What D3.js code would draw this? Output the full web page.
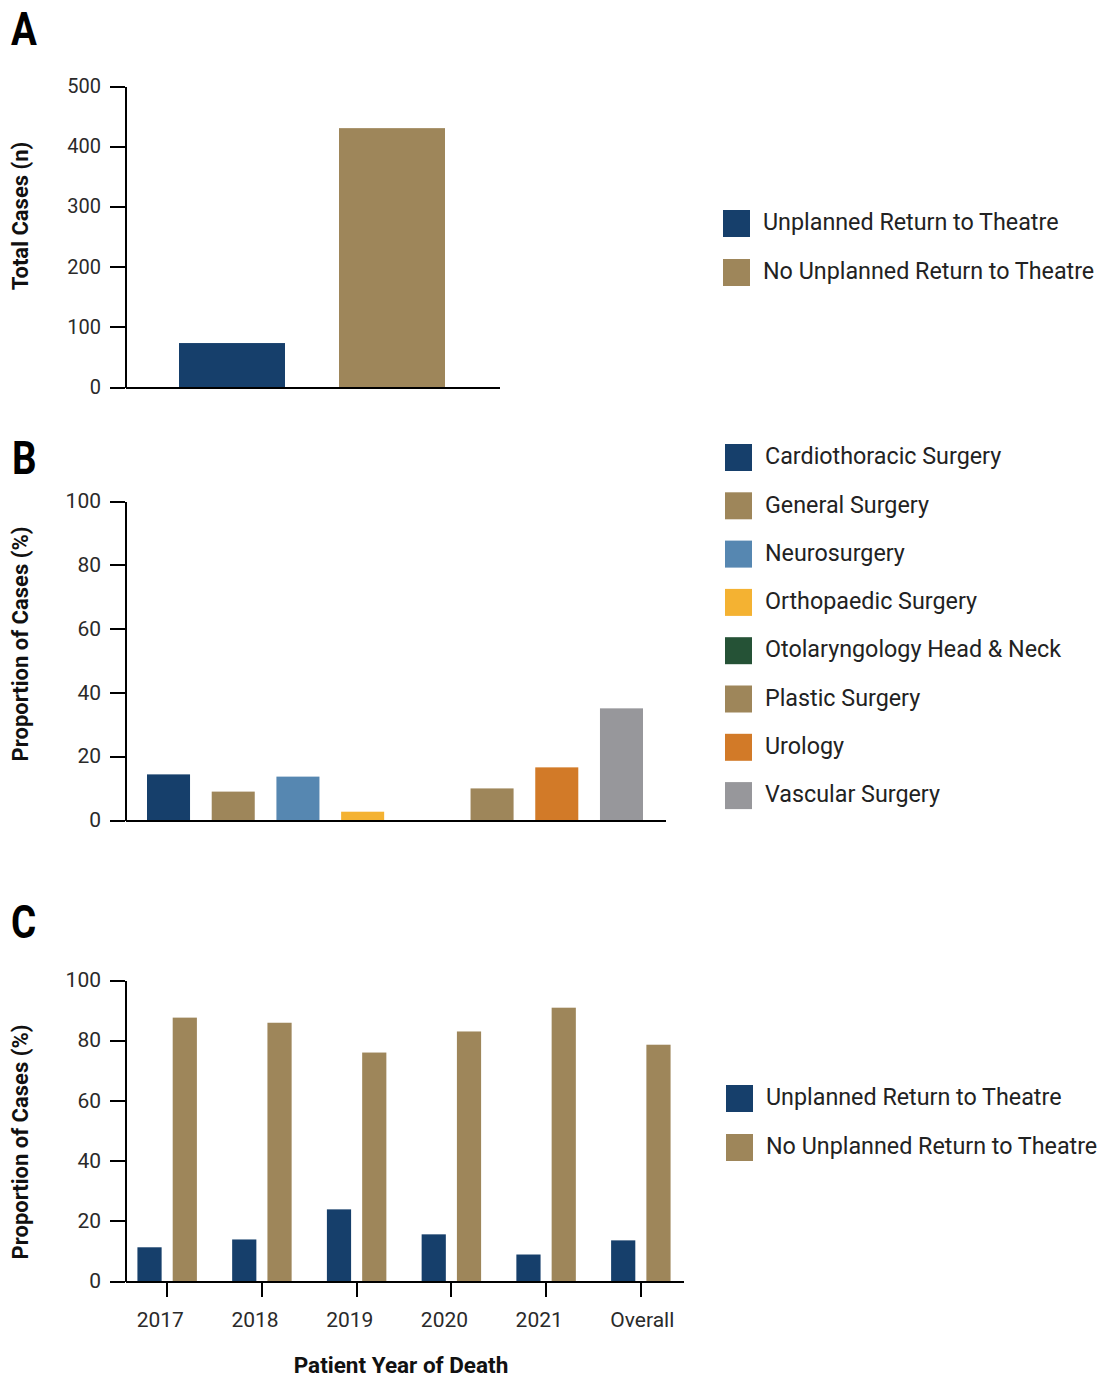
<!DOCTYPE html>
<html>
<head>
<meta charset="utf-8">
<script src="https://cdn.jsdelivr.net/npm/d3@7"></script>
<style>
  body { margin: 0; background: #fff; }
  svg text { font-family: Roboto, "Noto Sans", sans-serif; fill: #222; }
  .axis path, .axis line { stroke: #000; stroke-width: 2px; shape-rendering: crispEdges; }
  .axis text { fill: #2a2a2a; }
</style>
</head>
<body>
<svg id="chart" width="1103" height="1378"></svg>
<script>
// Panel A: total cases by return-to-theatre status
const returnGroups = ["Unplanned Return to Theatre", "No Unplanned Return to Theatre"];
const totalCases = [73, 430];
const casesTicks = [0, 100, 200, 300, 400, 500];

// Panel B: proportion of cases with an unplanned return, by specialty
const specialties = [
  "Cardiothoracic Surgery", "General Surgery", "Neurosurgery", "Orthopaedic Surgery",
  "Otolaryngology Head & Neck", "Plastic Surgery", "Urology", "Vascular Surgery"
];
const specialtyPct = [14.3, 8.9, 13.6, 2.6, 0, 9.9, 16.5, 35.0];

// Panel C: proportion of cases by patient year of death
const years = ["2017", "2018", "2019", "2020", "2021", "Overall"];
const unplannedPct = [11.2, 13.8, 23.8, 15.5, 8.8, 13.5];
const noUnplannedPct = [87.5, 85.8, 75.9, 82.9, 90.8, 78.5];
const pctTicks = [0, 20, 40, 60, 80, 100];

// Colours
const returnColors = ["#163f6b", "#9e865a"];
const specialtyColors = ["#163f6b", "#9e865a", "#5687b1", "#f4b232", "#255236", "#9e865a", "#d27a28", "#97979b"];

const svg = d3.select("#chart");

function panelLetter(txt, x, y) {
  svg.append("text")
    .attr("transform", `translate(${x},${y}) scale(0.82,1)`)
    .style("font-size", "47px").style("font-weight", 700).style("fill", "#000")
    .text(txt);
}

function yTitle(txt, x, cy) {
  svg.append("text")
    .attr("transform", `translate(${x},${cy}) rotate(-90)`)
    .attr("text-anchor", "middle")
    .style("font-size", "22px").style("font-weight", 700).style("fill", "#111")
    .text(txt);
}

function legend(labels, colors, x, y0, gap) {
  const g = svg.append("g").attr("transform", `translate(${x},${y0})`);
  const item = g.selectAll("g").data(labels).join("g")
    .attr("transform", (d, i) => `translate(0,${i * gap})`);
  item.append("rect").attr("width", 27).attr("height", 27).attr("fill", (d, i) => colors[i]);
  item.append("text").attr("x", 40).attr("y", 13.5).attr("dy", "0.29em")
    .style("font-size", "23.3px").style("fill", "#222").text(d => d);
}

// ---------- Panel A ----------
{
  const x = d3.scaleBand().domain(returnGroups).range([125, 499]).paddingInner(0.3375).paddingOuter(0.3375);
  const y = d3.scaleLinear().domain([0, 500]).range([387, 86]);

  svg.append("g").selectAll("rect").data(returnGroups).join("rect")
    .attr("x", d => x(d)).attr("width", x.bandwidth())
    .attr("y", (d, i) => y(totalCases[i])).attr("height", (d, i) => y(0) - y(totalCases[i]))
    .attr("fill", (d, i) => returnColors[i]);

  svg.append("g").attr("class", "axis").attr("transform", `translate(0,${y(0)})`)
    .call(d3.axisBottom(x).tickSize(0).tickSizeOuter(0).tickFormat(""));
  svg.append("g").attr("class", "axis").attr("transform", "translate(125,0)")
    .call(d3.axisLeft(y).tickValues(casesTicks).tickSize(15).tickSizeOuter(0).tickPadding(9))
    .selectAll("text").style("font-size", "20px");

  panelLetter("A", 11, 45);
  yTitle("Total Cases (n)", 28, 216);
  legend(returnGroups, returnColors, 723, 210, 49);
}

// ---------- Panel B ----------
{
  const x = d3.scaleBand().domain(specialties).range([125, 665]).paddingInner(0.335).paddingOuter(0.34);
  const y = d3.scaleLinear().domain([0, 100]).range([820, 501]);

  svg.append("g").selectAll("rect").data(specialties).join("rect")
    .attr("x", d => x(d)).attr("width", x.bandwidth())
    .attr("y", (d, i) => y(specialtyPct[i])).attr("height", (d, i) => y(0) - y(specialtyPct[i]))
    .attr("fill", (d, i) => specialtyColors[i]);

  svg.append("g").attr("class", "axis").attr("transform", `translate(0,${y(0)})`)
    .call(d3.axisBottom(x).tickSize(0).tickSizeOuter(0).tickFormat(""));
  svg.append("g").attr("class", "axis").attr("transform", "translate(125,0)")
    .call(d3.axisLeft(y).tickValues(pctTicks).tickSize(15).tickSizeOuter(0).tickPadding(9))
    .selectAll("text").style("font-size", "21px");

  panelLetter("B", 12, 474);
  yTitle("Proportion of Cases (%)", 28, 644);
  legend(specialties, specialtyColors, 725, 444, 48.3);
}

// ---------- Panel C ----------
{
  const keys = ["unplanned", "noUnplanned"];
  const series = { unplanned: unplannedPct, noUnplanned: noUnplannedPct };
  const x0 = d3.scaleBand().domain(years).range([125, 683]).paddingInner(0).paddingOuter(-0.055);
  const x1 = d3.scaleBand().domain(keys).range([0, x0.bandwidth()]).paddingInner(0.314).paddingOuter(0.5);
  const y = d3.scaleLinear().domain([0, 100]).range([1281, 980]);

  const grp = svg.append("g").selectAll("g").data(years).join("g")
    .attr("transform", d => `translate(${x0(d)},0)`);
  grp.selectAll("rect").data((d, i) => keys.map((k, j) => ({ k, v: series[k][i], j })))
    .join("rect")
    .attr("x", d => x1(d.k)).attr("width", x1.bandwidth())
    .attr("y", d => y(d.v)).attr("height", d => y(0) - y(d.v))
    .attr("fill", d => returnColors[d.j]);

  // category labels sit left-aligned, starting a little before each tick
  svg.append("g").attr("class", "axis").attr("transform", `translate(0,${y(0)})`)
    .call(d3.axisBottom(x0).tickSize(16).tickSizeOuter(0).tickPadding(15))
    .selectAll("text")
      .attr("text-anchor", "start").attr("x", -30.5)
      .style("font-size", "21px");
  svg.append("g").attr("class", "axis").attr("transform", "translate(125,0)")
    .call(d3.axisLeft(y).tickValues(pctTicks).tickSize(15).tickSizeOuter(0).tickPadding(9))
    .selectAll("text").style("font-size", "21px");

  panelLetter("C", 11, 938);
  yTitle("Proportion of Cases (%)", 28, 1142);
  svg.append("text").attr("x", 401).attr("y", 1373).attr("text-anchor", "middle")
    .style("font-size", "22.5px").style("font-weight", 700).style("fill", "#111")
    .text("Patient Year of Death");
  legend(returnGroups, returnColors, 726, 1085, 49);
}
</script>
</body>
</html>
